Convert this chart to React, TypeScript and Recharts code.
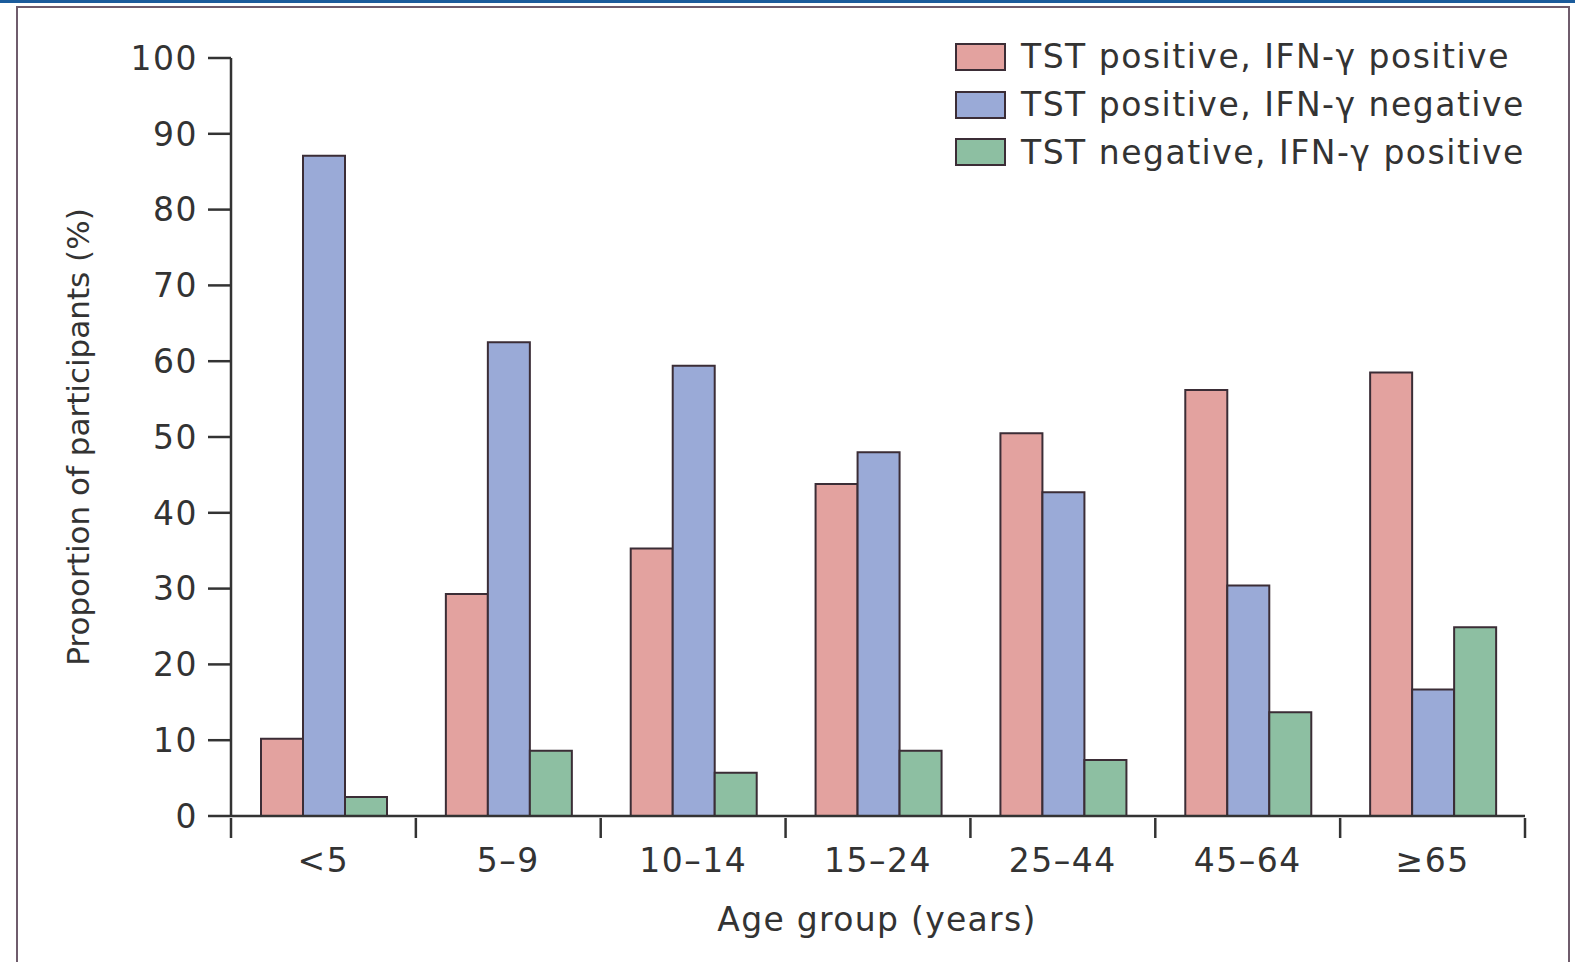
import React from "react"
import { BarChart, Bar, XAxis, YAxis, Legend } from "recharts"

const ageGroups = ["<5", "5–9", "10–14", "15–24", "25–44", "45–64", "≥65"]
const bothPositive = [10.2, 29.3, 35.3, 43.8, 50.5, 56.2, 58.5]
const tstOnly = [87.1, 62.5, 59.4, 48.0, 42.7, 30.4, 16.7]
const ifnOnly = [2.5, 8.6, 5.7, 8.6, 7.4, 13.7, 24.9]
const yTicks = [0, 10, 20, 30, 40, 50, 60, 70, 80, 90, 100]

const seriesNames = [
  "TST positive, IFN-γ positive",
  "TST positive, IFN-γ negative",
  "TST negative, IFN-γ positive",
]

const data = ageGroups.map((g, i) => ({
  group: g,
  both: bothPositive[i],
  tst: tstOnly[i],
  ifn: ifnOnly[i],
}))

const FONT = "'DejaVu Sans', sans-serif"
const INK = "#333333"
const EDGE = "#3b2d36"
const COLORS = ["#e3a29f", "#9aaad7", "#8dbfa2"]

// category label in the middle, tick marks on the band edges
function GroupTick(props: any) {
  const { x, y, payload, index, visibleTicksCount } = props
  const half = payload.offset || 0
  const last = index === visibleTicksCount - 1
  return (
    <g>
      <line x1={x - half} x2={x - half} y1={y - 10} y2={y + 10} stroke={INK} strokeWidth={2.5} />
      {last && <line x1={x + half} x2={x + half} y1={y - 10} y2={y + 10} stroke={INK} strokeWidth={2.5} />}
      <text
        x={x}
        y={y + 34}
        textAnchor="middle"
        dominantBaseline="middle"
        fontFamily={FONT}
        fontSize={33}
        letterSpacing={1.5}
        fill={INK}
      >
        {payload.value}
      </text>
    </g>
  )
}

function LegendBox() {
  return (
    <div style={{ fontFamily: FONT, fontSize: 33, letterSpacing: 1.5, color: INK }}>
      {seriesNames.map((name, i) => (
        <div key={name} style={{ display: "flex", alignItems: "center", height: 47.7 }}>
          <span
            style={{
              display: "inline-block",
              width: 47,
              height: 24,
              background: COLORS[i],
              border: `2px solid ${EDGE}`,
              marginRight: 15,
            }}
          />
          <span style={{ lineHeight: 1 }}>{name}</span>
        </div>
      ))}
    </div>
  )
}

export default function App() {
  return (
    <div style={{ position: "fixed", left: 0, top: 0, width: 1575, height: 962, background: "#fff", overflow: "hidden" }}>
      <div style={{ position: "absolute", left: 0, top: 0, width: 1575, height: 3, background: "#1b5c9c" }} />
      <div
        style={{
          position: "absolute",
          left: 16,
          top: 6,
          width: 1550,
          height: 1000,
          border: "2px solid #6f5c6c",
        }}
      />
      <div style={{ position: "absolute", left: 0, top: 0 }}>
        <BarChart
          width={1575}
          height={962}
          data={data}
          margin={{ top: 58, right: 50, bottom: 86, left: 131 }}
          barCategoryGap={30}
          barGap={0}
        >
          <XAxis
            dataKey="group"
            height={60}
            axisLine={{ stroke: INK, strokeWidth: 2.5 }}
            tickLine={false}
            tickSize={10}
            tick={<GroupTick />}
            interval={0}
          />
          <YAxis
            width={100}
            domain={[0, 100]}
            ticks={yTicks}
            interval={0}
            tickSize={23}
            tickMargin={10}
            tick={{ fontSize: 33, fill: INK, fontFamily: FONT, letterSpacing: 1.5 }}
            axisLine={{ stroke: INK, strokeWidth: 2.5 }}
            tickLine={{ stroke: INK, strokeWidth: 2.5 }}
          />
          <Legend
            layout="vertical"
            align="center"
            verticalAlign="middle"
            wrapperStyle={{ left: 955, top: 33, width: 615 }}
            content={() => <LegendBox />}
          />
          <Bar dataKey="both" fill={COLORS[0]} stroke={EDGE} strokeWidth={2} isAnimationActive={false} />
          <Bar dataKey="tst" fill={COLORS[1]} stroke={EDGE} strokeWidth={2} isAnimationActive={false} />
          <Bar dataKey="ifn" fill={COLORS[2]} stroke={EDGE} strokeWidth={2} isAnimationActive={false} />
        </BarChart>
      </div>
      <div
        style={{
          position: "absolute",
          left: 78,
          top: 437,
          transform: "translate(-50%, -50%) rotate(-90deg)",
          whiteSpace: "nowrap",
          fontFamily: FONT,
          fontSize: 31,
          color: INK,
        }}
      >
        Proportion of participants (%)
      </div>
      <div
        style={{
          position: "absolute",
          left: 877,
          top: 919,
          transform: "translate(-50%, -50%)",
          whiteSpace: "nowrap",
          fontFamily: FONT,
          fontSize: 33,
          letterSpacing: 1.3,
          color: INK,
        }}
      >
        Age group (years)
      </div>
    </div>
  )
}
